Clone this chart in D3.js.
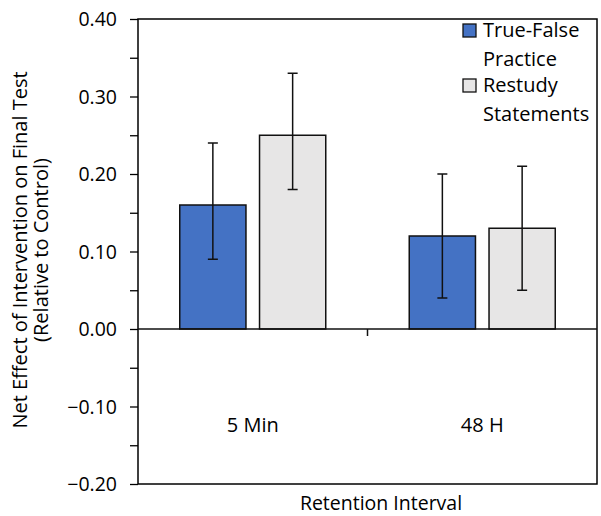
<!DOCTYPE html>
<html>
<head>
<meta charset="utf-8">
<script src="https://cdn.jsdelivr.net/npm/d3@7"></script>
<style>
  body { margin: 0; background: #fff; }
  svg text { font-family: "Open Sans", sans-serif; fill: #000; }
</style>
</head>
<body>
<svg width="601" height="516"></svg>
<script>
// dados
const categorias = ["5 Min", "48 H"];
const series = ["True-False Practice", "Restudy Statements"];
const cores = ["#4472c4", "#e7e6e6"];
const valores = [[0.16, 0.25], [0.12, 0.13]];
const erroInf = [[0.09, 0.18], [0.04, 0.05]];
const erroSup = [[0.24, 0.33], [0.20, 0.21]];
const ticksY = [-0.20, -0.10, 0.00, 0.10, 0.20, 0.30, 0.40];
const legendaLinhas = [["True-False", "Practice"], ["Restudy", "Statements"]];

const svg = d3.select("svg");
const esq = 138, dir = 597, topo = 19, base = 484;

const yScale = d3.scaleLinear().domain([-0.20, 0.40]).range([base, topo]);
const xScale = d3.scaleBand().domain(categorias).range([esq, dir]);
const xSerie = d3.scaleBand().domain(series)
    .range([0, 146]).paddingInner(0.17);

// eixo y com ticks menores
const eixoY = svg.append("g").attr("transform", `translate(${esq},0)`);
eixoY.call(d3.axisLeft(yScale).tickValues(d3.range(-0.20, 0.401, 0.05)).tickSize(8).tickFormat(""))
    .call(g => g.select(".domain").remove());
eixoY.selectAll("line").attr("stroke", "#000").attr("stroke-width", 1.3);
eixoY.selectAll(".tickLabel")
    .data(ticksY)
    .enter()
    .append("text")
    .attr("x", -21)
    .attr("y", d => yScale(d))
    .attr("dy", "0.36em")
    .attr("text-anchor", "end")
    .attr("font-size", 19.5)
    .text(d => d3.format(".2f")(d));

// moldura
svg.append("rect")
    .attr("x", esq).attr("y", topo)
    .attr("width", dir - esq).attr("height", base - topo)
    .attr("fill", "none").attr("stroke", "#000").attr("stroke-width", 1.5);

// barras
const grupos = svg.selectAll(".grupo")
    .data(categorias)
    .enter()
    .append("g")
    .attr("transform", c => `translate(${xScale(c) + (xScale.bandwidth() - 146) / 2},0)`);

grupos.each(function(c, i) {
    const g = d3.select(this);
    series.forEach((s, j) => {
        const v = valores[i][j];
        g.append("rect")
            .attr("x", xSerie(s))
            .attr("y", yScale(v))
            .attr("width", xSerie.bandwidth())
            .attr("height", yScale(0) - yScale(v))
            .attr("fill", cores[j])
            .attr("stroke", "#111")
            .attr("stroke-width", 1.5);
    });
    series.forEach((s, j) => {
        const cx = xSerie(s) + xSerie.bandwidth() / 2;
        const y1 = yScale(erroInf[i][j]), y2 = yScale(erroSup[i][j]);
        g.append("line").attr("x1", cx).attr("x2", cx).attr("y1", y1).attr("y2", y2)
            .attr("stroke", "#111").attr("stroke-width", 1.5);
        [y1, y2].forEach(y => {
            g.append("line").attr("x1", cx - 5).attr("x2", cx + 5).attr("y1", y).attr("y2", y)
                .attr("stroke", "#111").attr("stroke-width", 1.5);
        });
    });
});

// linha do zero e tick central
svg.append("line")
    .attr("x1", esq).attr("x2", dir)
    .attr("y1", yScale(0)).attr("y2", yScale(0))
    .attr("stroke", "#111").attr("stroke-width", 1.5);
svg.append("line")
    .attr("x1", xScale("48 H")).attr("x2", xScale("48 H"))
    .attr("y1", yScale(0)).attr("y2", yScale(0) + 7)
    .attr("stroke", "#111").attr("stroke-width", 1.5);

// rótulos das categorias
svg.selectAll(".cat")
    .data(categorias)
    .enter()
    .append("text")
    .attr("x", c => xScale(c) + xScale.bandwidth() / 2)
    .attr("y", 432)
    .attr("text-anchor", "middle")
    .attr("font-size", 20)
    .text(c => c);

// títulos
svg.append("text")
    .attr("x", 381).attr("y", 510)
    .attr("text-anchor", "middle")
    .attr("font-size", 19.5)
    .text("Retention Interval");

const tituloY = svg.append("text")
    .attr("transform", "translate(27,250) rotate(-90)")
    .attr("text-anchor", "middle")
    .attr("font-size", 20);
tituloY.append("tspan").attr("x", 0).attr("dy", 0).text("Net Effect of Intervention on Final Test");
tituloY.append("tspan").attr("x", 0).attr("dy", 21).text("(Relative to Control)");

// legenda
const legenda = svg.append("g").attr("transform", "translate(463,0)");
legendaLinhas.forEach((linhas, j) => {
    const y0 = 24 + j * 55;
    legenda.append("rect")
        .attr("x", 0).attr("y", y0)
        .attr("width", 13).attr("height", 13)
        .attr("fill", cores[j]).attr("stroke", "#111").attr("stroke-width", 1.3);
    linhas.forEach((t, k) => {
        legenda.append("text")
            .attr("x", 20).attr("y", y0 + 13 + k * 29)
            .attr("font-size", 20)
            .text(t);
    });
});
</script>
</body>
</html>
